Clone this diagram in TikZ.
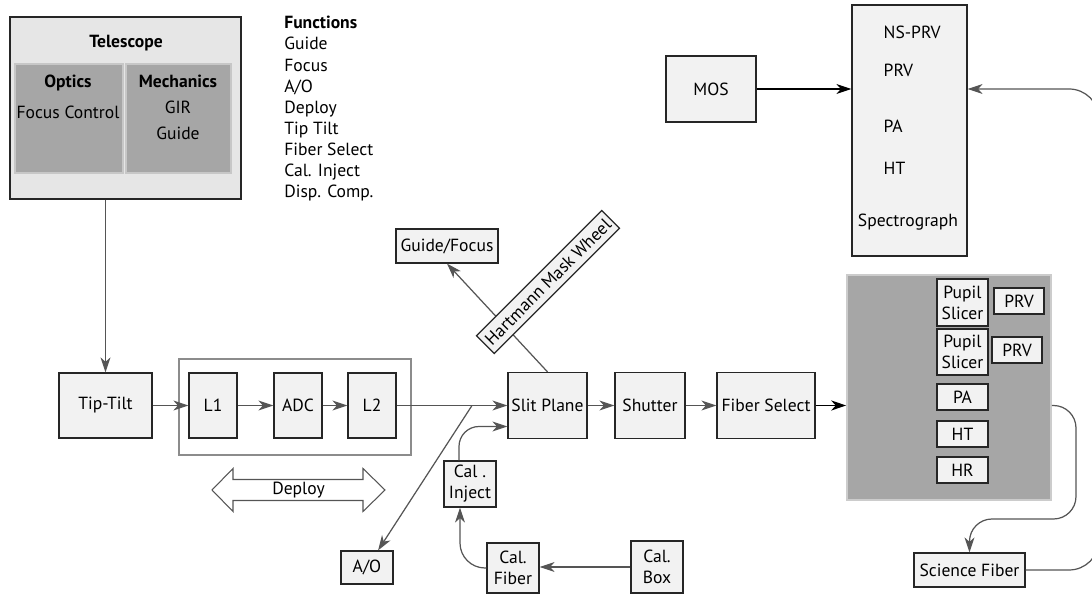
\documentclass[tikz,border=0pt]{standalone}
\usepackage{fontspec}
\setmainfont{PT Sans}
\usetikzlibrary{arrows.meta}
\definecolor{boxfill}{HTML}{F2F2F2}
\definecolor{telfill}{HTML}{E6E6E6}
\definecolor{darkfill}{HTML}{A6A6A6}
\definecolor{linegrey}{HTML}{555555}

\begin{document}
\begin{tikzpicture}[
	  font=\fontsize{10}{12}\selectfont,
	  >={Stealth[length=0.3cm,width=0.2cm,inset=0.09cm]},
	  blk/.style={draw=black!85, fill=boxfill, line width=0.7pt, inner sep=1pt, align=center},
	  shade/.style={draw=black!22, fill=darkfill, line width=0.9pt},
	  hdr/.style={font=\fontsize{10}{12}\selectfont\bfseries},
	  conn/.style={->, draw=linegrey, line width=0.7pt},
	  main/.style={->, draw=black, line width=0.7pt}
	]
	  \useasboundingbox (0,0) rectangle (21.84,11.92);
	  \clip (0,0) rectangle (21.84,11.92);

	  % Nodes
	  \node[blk, fill=telfill, minimum width=4.62cm, minimum height=3.64cm] (Tel) at (2.51,9.76) {};
	  \node[shade, minimum width=2.16cm, minimum height=2.18cm] (Optics) at (1.38,9.55) {};
	  \node[shade, minimum width=2.10cm, minimum height=2.18cm] (Mech) at (3.57,9.55) {};
	  \node[hdr] (TelTitle) at (2.52,11.06) {Telescope};
	  \node[hdr] (OpticsTitle) at (1.36,10.26) {Optics};
	  \node (FocusCtrl) at (1.36,9.67) {Focus Control};
	  \node[hdr] (MechTitle) at (3.56,10.30) {Mechanics};
	  \node (GIR) at (3.56,9.78) {GIR};
	  \node (MechGuide) at (3.56,9.26) {Guide};

	  \node[anchor=north west, align=left, inner sep=0pt] (Functions) at (5.68,11.60)
	    {\textbf{Functions}\\Guide\\Focus\\A/O\\Deploy\\Tip Tilt\\Fiber Select\\Cal. Inject\\Disp. Comp.};

	  \node[blk, minimum width=1.80cm, minimum height=1.32cm] (MOS) at (14.22,10.14) {MOS};
	  \node[blk, minimum width=2.30cm, minimum height=5.02cm] (Spectro) at (18.19,9.31) {};
	  \node[anchor=west] (NSPRV) at (17.55,11.28) {NS-PRV};
	  \node[anchor=west] (SpPRV) at (17.55,10.52) {PRV};
	  \node[anchor=west] (SpPA) at (17.55,9.40) {PA};
	  \node[anchor=west] (SpHT) at (17.55,8.56) {HT};
	  \node (SpName) at (18.16,7.48) {Spectrograph};

	  \node[blk, minimum width=1.86cm, minimum height=1.30cm] (TipTilt) at (2.11,3.81) {Tip-Tilt};
	  \node[draw=black!45, line width=0.6pt, minimum width=4.64cm, minimum height=1.92cm] (Deployable) at (5.90,3.78) {};
	  \node[blk, minimum width=0.96cm, minimum height=1.30cm] (L1) at (4.26,3.81) {L1};
	  \node[blk, minimum width=0.96cm, minimum height=1.30cm] (ADC) at (5.96,3.81) {ADC};
	  \node[blk, minimum width=0.96cm, minimum height=1.30cm] (L2) at (7.44,3.81) {L2};
	  \node[blk, minimum width=1.58cm, minimum height=1.32cm] (SlitPlane) at (10.95,3.81) {Slit Plane};
	  \node[blk, minimum width=1.40cm, minimum height=1.32cm] (Shutter) at (13.00,3.81) {Shutter};
	  \node[blk, minimum width=1.96cm, minimum height=1.32cm] (FiberSel) at (15.32,3.81) {Fiber Select};
	  \node[blk, minimum width=2.04cm, minimum height=0.68cm] (GuideFocus) at (8.94,7.00) {Guide/Focus};

	  \node (Deploy) at (5.97,2.12) {Deploy};
	  \draw[linegrey, line width=0.6pt] (Deploy.center) ++(-1.73,0) -- ++(0.42,0.43) -- ++(0,-0.22) -- ++(2.60,0)
	    -- ++(0,0.22) -- ++(0.44,-0.43) -- ++(-0.44,-0.43) -- ++(0,0.22) -- ++(-2.60,0) -- ++(0,-0.22) -- cycle;
	  \node[blk, minimum width=1.04cm, minimum height=0.66cm] (AO) at (7.34,0.57) {A/O};
	  \node[blk, minimum width=1.04cm, minimum height=0.92cm] (CalInject) at (9.40,2.24) {Cal .\\Inject};
	  \node[blk, minimum width=1.04cm, minimum height=1.00cm] (CalFiber) at (10.26,0.56) {Cal.\\Fiber};
	  \node[blk, minimum width=1.04cm, minimum height=1.04cm] (CalBox) at (13.14,0.58) {Cal.\\Box};

	  \node[shade, draw=black!20, minimum width=4.08cm, minimum height=4.50cm] (Bench) at (18.98,4.17) {};
	  \node[blk, minimum width=1.02cm, minimum height=0.94cm] (Pupil1) at (19.25,5.87) {Pupil\\Slicer};
	  \node[blk, minimum width=1.00cm, minimum height=0.52cm] (PRV1) at (20.38,5.90) {PRV};
	  \node[blk, minimum width=1.02cm, minimum height=0.92cm] (Pupil2) at (19.25,4.88) {Pupil\\Slicer};
	  \node[blk, minimum width=1.00cm, minimum height=0.52cm] (PRV2) at (20.34,4.92) {PRV};
	  \node[blk, minimum width=1.02cm, minimum height=0.52cm] (BenchPA) at (19.25,3.98) {PA};
	  \node[blk, minimum width=1.02cm, minimum height=0.52cm] (BenchHT) at (19.25,3.24) {HT};
	  \node[blk, minimum width=1.02cm, minimum height=0.52cm] (BenchHR) at (19.25,2.52) {HR};
	  \node[blk, minimum width=2.22cm, minimum height=0.68cm] (SciFiber) at (19.39,0.52) {Science Fiber};

	  \coordinate (pick) at (9.44,3.81);

	  % Arrows
	  \draw[conn] (Tel.south -| TipTilt) -- (TipTilt); % telescope feeds the tip-tilt
	  \draw[conn] (TipTilt) -- (L1);
	  \draw[conn] (L1) -- (ADC);
	  \draw[conn] (ADC) -- (L2);
	  \draw[conn] (L2) -- (SlitPlane);
	  \draw[conn] (pick) -- (AO); % pick-off to A/O
	  \draw[conn] (SlitPlane) -- (Shutter);
	  \draw[conn] (Shutter) -- (FiberSel);
	  \draw[main] (FiberSel) -- (FiberSel -| Bench.west);
	  \draw[conn] (SlitPlane.north) -- (GuideFocus.south);
	  \draw[conn, rounded corners=0.4cm] ([xshift=-0.22cm]CalInject.north) |- ([yshift=-0.42cm]SlitPlane.west);
	  \draw[conn] (CalBox) -- (CalBox -| CalFiber.east);
	  \draw[conn, rounded corners=0.5cm] (CalFiber.west) -| ([xshift=-0.2cm]CalInject.south);
	  \draw[conn, rounded corners=0.45cm] (Bench.east |- FiberSel) -- (21.52,3.81) -- (21.52,1.54) -| (SciFiber.north);
	  \draw[conn, rounded corners=0.6cm] (SciFiber.east) -- (21.98,0.52) -- (21.98,10.14) -- (Spectro.east |- MOS); % leaves the page on the right
	  \draw[main] (MOS) -- (MOS -| Spectro.west);

	  % over the guide line
	  \node[blk, rotate=45, minimum width=3.54cm, minimum height=0.50cm] (Hartmann) at (10.96,6.28) {Hartmann Mask Wheel};
	\end{tikzpicture}
\end{document}
